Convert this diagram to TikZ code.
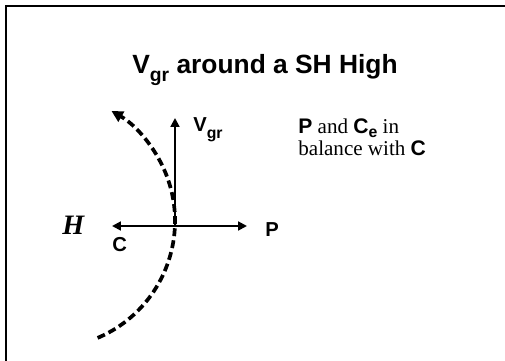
\documentclass[tikz,border=0pt]{standalone}
\usepackage{fontspec}
\setmainfont{Liberation Serif}
\setsansfont{Liberation Sans}
\usetikzlibrary{arrows.meta}
\newcommand{\lowsub}[3][0.3em]{\raisebox{-#1}{\fontsize{#2}{#2}\selectfont #3}}

\begin{document}
\begin{tikzpicture}[x=0.02cm, y=0.02cm,
    vec/.style={-{Triangle[length=5pt, width=5pt]}, line width=1.1pt},
    flow/.style={-{Triangle[length=6.5pt, width=6.5pt]}, line width=2.1pt, dash pattern=on 4.5pt off 2.4pt},
    lbl/.style={anchor=base west, inner sep=0pt, font=\sffamily\bfseries\fontsize{11.5}{12}\selectfont}]
    \useasboundingbox (0,0) rectangle (505,361);

    % Frame
    \draw[line width=0.9pt] (6,0) -- (6,355) -- (505,355);

    % Title
    \node[anchor=base, inner sep=0pt, font=\sffamily\bfseries\fontsize{15}{18}\selectfont] (title) at (265,287) {V\lowsub{11}{gr} around a SH High};

    % Balance of forces
    \coordinate (o) at (175,135);
    \coordinate (vtip) at (175,243);
    \coordinate (ctip) at (112,135);
    \coordinate (ptip) at (247,135);
    \draw[vec] (o) -- (vtip);
    \draw[vec] (o) -- (ctip);
    \draw[vec] (o) -- (ptip);

    % Flow around the High
    \coordinate (hc) at (48,140);
    \draw[flow] ([shift={(-67:127)}]hc) arc[start angle=-67, end angle=60, radius=127];

    % Labels
    \node[lbl] (vgr) at (193,229) {V\lowsub{9}{gr}};
    \node[lbl] (p) at (265,124) {P};
    \node[lbl] (c) at (112,109) {C};
    \node[anchor=base west, inner sep=0pt, font=\bfseries\itshape\fontsize{16}{16}\selectfont] (high) at (62,126) {H};

    % Note
    \node[anchor=base west, inner sep=0pt, align=left, font=\fontsize{12}{12.8}\selectfont] (note) at (298,205) {\textsf{\textbf{P}} and \textsf{\textbf{C\lowsub[0.2em]{9}{e}}} in\\balance with \textsf{\textbf{C}}};
  \end{tikzpicture}
\end{document}
